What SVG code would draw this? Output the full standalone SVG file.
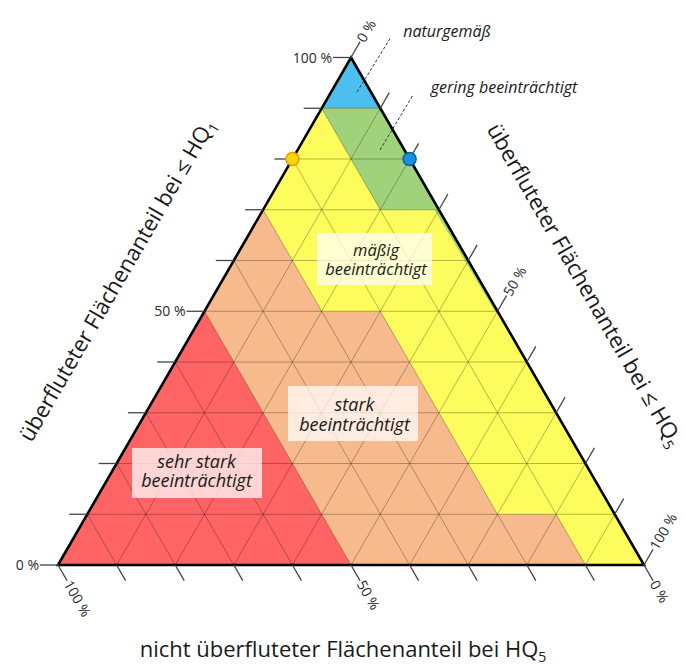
<svg xmlns="http://www.w3.org/2000/svg" width="686" height="668" viewBox="0 0 686 668">
<style>
.grid line{stroke:#000;stroke-opacity:0.28;stroke-width:1}
.tick line{stroke:#444;stroke-width:1.3}
.pct{font-family:"Open Sans","Noto Sans",sans-serif;font-size:14px;fill:#2a2a2a}
.title{font-family:"Open Sans","Noto Sans",sans-serif;font-size:22px;fill:#1a1a1a}
.lab{font-family:"Open Sans","Noto Sans",sans-serif;font-style:italic;fill:#1a1a1a;text-anchor:middle}
.box{fill:#fff;fill-opacity:0.72}
.lead{stroke:#333;stroke-width:1;stroke-dasharray:3 2;fill:none}
</style>
<rect width="686" height="668" fill="#fff"/>
<g id="region-maessig"><polygon points="351,57.5 644,565 58,565" fill="#fcfc5c"/></g>
<g id="region-stark"><polygon points="263.1,209.75 321.7,311.25 380.3,311.25 497.5,514.25 556.1,514.25 585.4,565 351,565 204.5,311.25" fill="#f6ba8c"/></g>
<g id="region-sehr-stark"><polygon points="204.5,311.25 351,565 58,565" fill="#fe6464"/></g>
<g id="region-gering"><polygon points="321.7,108.25 380.3,108.25 438.9,209.75 380.3,209.75" fill="#a0d27b"/><polygon points="438.9,209.75 497.5,311.25 495,311.25 434.5,209.75" fill="#a0d27b"/></g>
<g id="region-naturgemaess"><polygon points="351,57.5 380.3,108.25 321.7,108.25" fill="#4dbfee"/></g>
<g class="grid" id="grid">
<line x1="87.3" y1="514.25" x2="614.7" y2="514.25"/>
<line x1="116.6" y1="463.5" x2="585.4" y2="463.5"/>
<line x1="145.9" y1="412.75" x2="556.1" y2="412.75"/>
<line x1="175.2" y1="362" x2="526.8" y2="362"/>
<line x1="204.5" y1="311.25" x2="497.5" y2="311.25"/>
<line x1="233.8" y1="260.5" x2="468.2" y2="260.5"/>
<line x1="263.1" y1="209.75" x2="438.9" y2="209.75"/>
<line x1="292.4" y1="159" x2="409.6" y2="159"/>
<line x1="321.7" y1="108.25" x2="380.3" y2="108.25"/>
<line x1="116.6" y1="565" x2="380.3" y2="108.25"/>
<line x1="175.2" y1="565" x2="409.6" y2="159"/>
<line x1="233.8" y1="565" x2="438.9" y2="209.75"/>
<line x1="292.4" y1="565" x2="468.2" y2="260.5"/>
<line x1="351" y1="565" x2="497.5" y2="311.25"/>
<line x1="409.6" y1="565" x2="526.8" y2="362"/>
<line x1="468.2" y1="565" x2="556.1" y2="412.75"/>
<line x1="526.8" y1="565" x2="585.4" y2="463.5"/>
<line x1="585.4" y1="565" x2="614.7" y2="514.25"/>
<line x1="87.3" y1="514.25" x2="116.6" y2="565"/>
<line x1="116.6" y1="463.5" x2="175.2" y2="565"/>
<line x1="145.9" y1="412.75" x2="233.8" y2="565"/>
<line x1="175.2" y1="362" x2="292.4" y2="565"/>
<line x1="204.5" y1="311.25" x2="351" y2="565"/>
<line x1="233.8" y1="260.5" x2="409.6" y2="565"/>
<line x1="263.1" y1="209.75" x2="468.2" y2="565"/>
<line x1="292.4" y1="159" x2="526.8" y2="565"/>
<line x1="321.7" y1="108.25" x2="585.4" y2="565"/>
</g>
<g id="frame"><polygon points="351,57.5 644,565 58,565" fill="none" stroke="#000" stroke-width="2.6" stroke-linejoin="miter"/></g>
<g class="tick" id="ticks">
<line x1="58" y1="565" x2="40" y2="565"/>
<line x1="87.3" y1="514.25" x2="69.3" y2="514.25"/>
<line x1="116.6" y1="463.5" x2="98.6" y2="463.5"/>
<line x1="145.9" y1="412.75" x2="127.9" y2="412.75"/>
<line x1="175.2" y1="362" x2="157.2" y2="362"/>
<line x1="204.5" y1="311.25" x2="186.5" y2="311.25"/>
<line x1="233.8" y1="260.5" x2="215.8" y2="260.5"/>
<line x1="263.1" y1="209.75" x2="245.1" y2="209.75"/>
<line x1="292.4" y1="159" x2="274.4" y2="159"/>
<line x1="321.7" y1="108.25" x2="303.7" y2="108.25"/>
<line x1="351" y1="57.5" x2="333" y2="57.5"/>
<line x1="351" y1="57.5" x2="360" y2="41.9"/>
<line x1="380.3" y1="108.25" x2="389.3" y2="92.65"/>
<line x1="409.6" y1="159" x2="418.6" y2="143.4"/>
<line x1="438.9" y1="209.75" x2="447.9" y2="194.15"/>
<line x1="468.2" y1="260.5" x2="477.2" y2="244.9"/>
<line x1="497.5" y1="311.25" x2="506.5" y2="295.65"/>
<line x1="526.8" y1="362" x2="535.8" y2="346.4"/>
<line x1="556.1" y1="412.75" x2="565.1" y2="397.15"/>
<line x1="585.4" y1="463.5" x2="594.4" y2="447.9"/>
<line x1="614.7" y1="514.25" x2="623.7" y2="498.65"/>
<line x1="644" y1="565" x2="653" y2="549.4"/>
<line x1="58" y1="565" x2="67" y2="580.6"/>
<line x1="116.6" y1="565" x2="125.6" y2="580.6"/>
<line x1="175.2" y1="565" x2="184.2" y2="580.6"/>
<line x1="233.8" y1="565" x2="242.8" y2="580.6"/>
<line x1="292.4" y1="565" x2="301.4" y2="580.6"/>
<line x1="351" y1="565" x2="360" y2="580.6"/>
<line x1="409.6" y1="565" x2="418.6" y2="580.6"/>
<line x1="468.2" y1="565" x2="477.2" y2="580.6"/>
<line x1="526.8" y1="565" x2="535.8" y2="580.6"/>
<line x1="585.4" y1="565" x2="594.4" y2="580.6"/>
<line x1="644" y1="565" x2="653" y2="580.6"/>
</g>
<g id="axis-labels">
<text class="pct" x="332" y="57.5" dy="0.36em" text-anchor="end">100 %</text>
<text class="pct" x="185.5" y="311.25" dy="0.36em" text-anchor="end">50 %</text>
<text class="pct" x="39" y="565" dy="0.36em" text-anchor="end">0 %</text>
<text class="pct" transform="translate(360.5,41) rotate(-60)" dy="0.36em">0 %</text>
<text class="pct" transform="translate(507,294.8) rotate(-60)" dy="0.36em">50 %</text>
<text class="pct" transform="translate(653.5,548.5) rotate(-60)" dy="0.36em">100 %</text>
<text class="pct" transform="translate(67.5,581.5) rotate(60)" dy="0.36em">100 %</text>
<text class="pct" transform="translate(360.5,581.5) rotate(60)" dy="0.36em">50 %</text>
<text class="pct" transform="translate(653.5,581.5) rotate(60)" dy="0.36em">0 %</text>
<text class="title" transform="translate(117,280) rotate(-60)" text-anchor="middle" dy="0.35em">überfluteter Flächenanteil bei ≤ HQ<tspan font-size="14" dy="5">1</tspan></text>
<text class="title" transform="translate(585,285) rotate(60)" text-anchor="middle" dy="0.35em" font-size="20.5">überfluteter Flächenanteil bei ≤ HQ<tspan font-size="14" dy="5">5</tspan></text>
<text class="title" x="343" y="657" text-anchor="middle">nicht überfluteter Flächenanteil bei HQ<tspan font-size="14" dy="5">5</tspan></text>
</g>
<g id="connectors">
<line class="lead" x1="357" y1="92" x2="391" y2="37"/>
<line class="lead" x1="380" y1="150" x2="413" y2="95"/>
</g>
<g id="label-naturgemaess"><text class="lab" x="447" y="37" font-size="16">naturgemäß</text></g>
<g id="label-gering"><text class="lab" x="504" y="93" font-size="16">gering beeinträchtigt</text></g>
<g id="label-maessig"><rect class="box" x="317" y="233" width="115" height="52"/><text class="lab" font-size="16.5"><tspan x="376" y="256">mäßig</tspan><tspan x="376" y="275">beeinträchtigt</tspan></text></g>
<g id="label-stark"><rect class="box" x="288" y="386" width="130" height="55"/><text class="lab" font-size="18"><tspan x="354.5" y="411">stark</tspan><tspan x="354.5" y="431">beeinträchtigt</tspan></text></g>
<g id="label-sehr-stark"><rect class="box" x="132" y="448" width="130" height="50"/><text class="lab" font-size="18"><tspan x="196.5" y="468">sehr stark</tspan><tspan x="196.5" y="487">beeinträchtigt</tspan></text></g>
<g id="dot-hq1"><circle cx="292.4" cy="159" r="6.5" fill="#ffd400" stroke="#e0a000" stroke-width="1.5"/></g>
<g id="dot-hq5"><circle cx="409.6" cy="159" r="6.5" fill="#1a8fe0" stroke="#0b5fa8" stroke-width="1.5"/></g>
</svg>
